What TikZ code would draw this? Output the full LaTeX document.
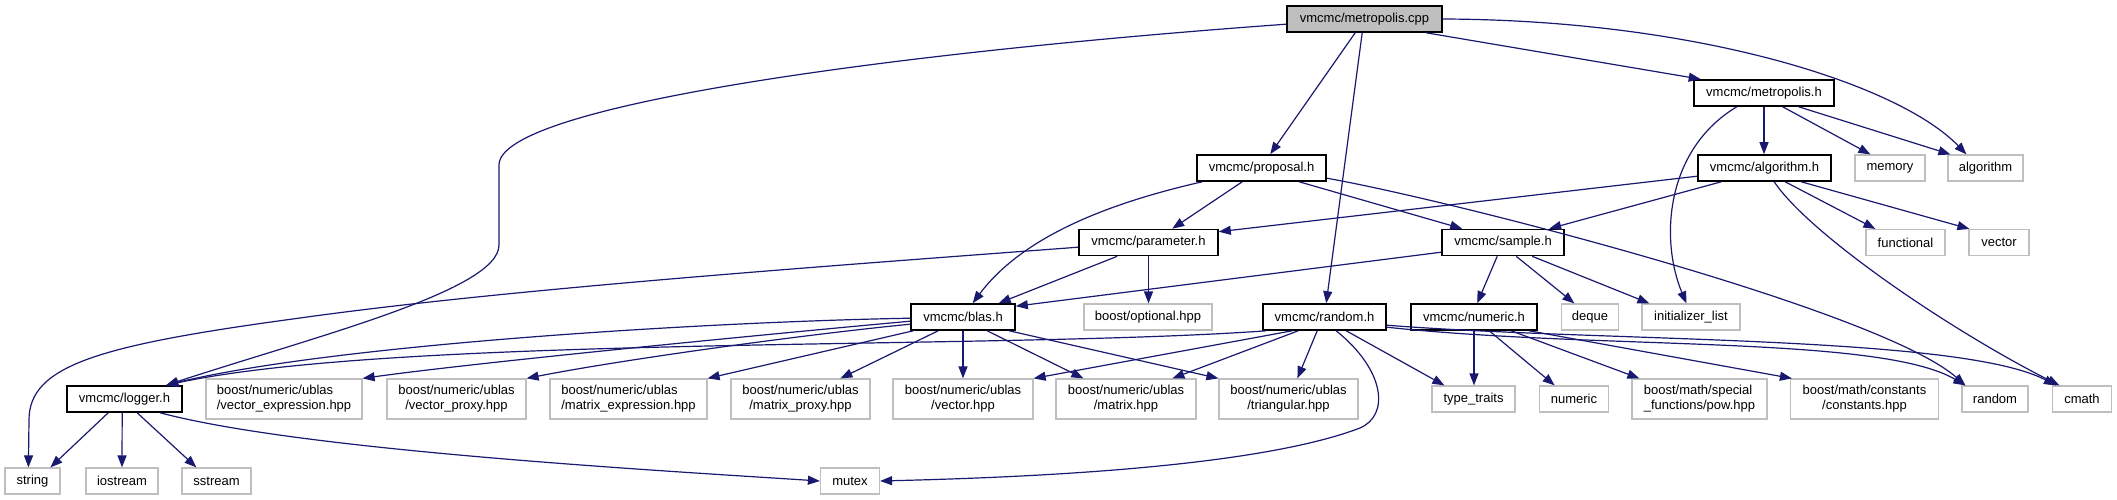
\documentclass[tikz,border=0pt]{standalone}
\usepackage{fontspec}
\setmainfont{Liberation Sans}
\usetikzlibrary{arrows.meta,calc}
\definecolor{edgec}{RGB}{25,25,112}
\definecolor{greyb}{RGB}{191,191,191}
\begin{document}
\begin{tikzpicture}[x=1pt,y=-1pt,
 base/.style={inner sep=0pt,minimum height=26pt,font=\fontsize{13}{15}\selectfont,text=black,line width=1.2pt},
 doc/.style={base,draw=black,line width=1.6pt,minimum width=#1},
 sys/.style={base,draw=greyb,minimum width=#1},
 sysb/.style={sys=#1,minimum height=40pt,align=center},
 sysl/.style={sys=#1,minimum height=40pt,align=left},
 cppn/.style={doc=#1,fill=greyb},
 arr/.style={draw=edgec,line width=1.2pt,-{Triangle[length=12pt,width=9pt]}}]
\fill[white] (0,0) rectangle (2117,500);
\useasboundingbox (0,0) rectangle (2117,500);

% nodes
\node[cppn=155pt] (cpp) at (1364.5,19) {vmcmc/metropolis.cpp};
\node[doc=140pt] (metroh) at (1764,93) {vmcmc/metropolis.h};
\node[doc=133pt] (algh) at (1764.5,168) {vmcmc/algorithm.h};
\node[sys=70pt] (memory) at (1890,168) {memory};
\node[sys=75pt] (algorithm) at (1985.5,168) {algorithm};
\node[doc=129pt] (proposal) at (1261.5,168) {vmcmc/proposal.h};
\node[doc=139pt] (parameter) at (1148.5,242.5) {vmcmc/parameter.h};
\node[doc=122pt] (sample) at (1503,242.5) {vmcmc/sample.h};
\node[sys=79pt] (functional) at (1905.5,242.5) {functional};
\node[sys=60pt] (vector) at (1999,242.5) {vector};
\node[doc=104pt] (blas) at (963,317) {vmcmc/blas.h};
\node[sys=128pt] (optional) at (1148,317) {boost/optional.hpp};
\node[doc=123pt] (randomh) at (1324.5,317) {vmcmc/random.h};
\node[doc=126pt] (numerich) at (1474,317) {vmcmc/numeric.h};
\node[sys=57pt] (deque) at (1590,317) {deque};
\node[sys=98pt] (init) at (1691,317) {initializer\_list};
\node[doc=115pt] (logger) at (124.5,399) {vmcmc/logger.h};
\node[sysl=156pt] (vexpr) at (284,399) {boost/numeric/ublas\\/vector\_expression.hpp};
\node[sysb=139pt] (vproxy) at (456.5,399) {boost/numeric/ublas\\/vector\_proxy.hpp};
\node[sysl=157pt] (mexpr) at (628.5,399) {boost/numeric/ublas\\/matrix\_expression.hpp};
\node[sysb=139pt] (mproxy) at (800.5,399) {boost/numeric/ublas\\/matrix\_proxy.hpp};
\node[sysb=140pt] (vectorhpp) at (963,399) {boost/numeric/ublas\\/vector.hpp};
\node[sysb=140pt] (matrixhpp) at (1126,399) {boost/numeric/ublas\\/matrix.hpp};
\node[sysb=139pt] (triang) at (1288.5,399) {boost/numeric/ublas\\/triangular.hpp};
\node[sys=83pt] (typetraits) at (1473.5,399) {type\_traits};
\node[sys=68.5pt] (numeric) at (1574,399) {numeric};
\node[sysl=135pt] (pow) at (1699.5,399) {boost/math/special\\\_functions/pow.hpp};
\node[sysb=148pt] (constants) at (1864.5,399) {boost/math/constants\\/constants.hpp};
\node[sys=66pt] (random) at (1995,399) {random};
\node[sys=59pt] (cmath) at (2082,399) {cmath};
\node[sys=55pt] (string) at (32.5,481) {string};
\node[sys=72pt] (iostream) at (122,481) {iostream};
\node[sys=69pt] (sstream) at (216.5,481) {sstream};
\node[sys=59pt] (mutex) at (850,481) {mutex};

% metropolis.cpp
\draw[arr] ($(cpp.north west)+(0,19)$) .. controls (900,52) and (499,105) .. (499,165) -- (499,245) .. controls (499,290) and (320,335) .. ($(logger.north west)+(100,0)$);
\draw[arr] ($(cpp.south west)+(69,0)$) -- ($(proposal.north west)+(74,0)$);
\draw[arr] ($(cpp.south west)+(76,0)$) -- ($(randomh.north west)+(64,0)$);
\draw[arr] ($(cpp.south west)+(140,0)$) -- ($(metroh.north west)+(7.5,0)$);
\draw[arr] (cpp.east) .. controls (1700,20) and (1900,85) .. ($(algorithm.north west)+(19,0)$);

% metropolis.h
\draw[arr] ($(metroh.south west)+(43.5,0)$) .. controls (1665,150) and (1660,240) .. ($(init.north west)+(45,0)$);
\draw[arr] (metroh.south) -- (metroh.south |- algh.north);
\draw[arr] ($(metroh.south west)+(89.5,0)$) -- ($(memory.north west)+(16,0)$);
\draw[arr] ($(metroh.south west)+(105.5,0)$) -- ($(algorithm.north west)+(3,0)$);

% proposal.h
\draw[arr] ($(proposal.south west)+(6,0)$) .. controls (1100,205) and (1020,240) .. ($(blas.north west)+(62.5,0)$);
\draw[arr] ($(proposal.south west)+(46,0)$) -- ($(parameter.north west)+(94,0)$);
\draw[arr] ($(proposal.south west)+(103,0)$) -- ($(sample.north west)+(21,0)$);
\draw[arr] ($(proposal.north east)+(0,24)$) .. controls (1450,200) and (1880,310) .. ($(random.north west)+(4,0)$);

% algorithm.h
\draw[arr] ($(algh.north west)+(0,22)$) -- ($(parameter.north east)+(0,3)$);
\draw[arr] ($(algh.south west)+(24,0)$) -- ($(sample.north west)+(108,0)$);
\draw[arr] ($(algh.south west)+(77,0)$) .. controls (1810,235) and (1950,330) .. ($(cmath.north west)+(7.5,0)$);
\draw[arr] ($(algh.south west)+(88,0)$) -- ($(functional.north west)+(10,0)$);
\draw[arr] ($(algh.south west)+(104,0)$) -- ($(vector.north west)+(1,0)$);

% sample.h
\draw[arr] ($(sample.north west)+(0,23.5)$) -- ($(blas.north east)+(0,3)$);
\draw[arr] ($(sample.south west)+(56,0)$) -- ($(numerich.north west)+(67,0)$);
\draw[arr] ($(sample.south west)+(75,0)$) -- ($(deque.north west)+(13.5,0)$);
\draw[arr] ($(sample.south west)+(91,0)$) -- ($(init.north west)+(8,0)$);

% parameter.h
\draw[arr] ($(parameter.north west)+(0,18.5)$) .. controls (800,268) and (500,290) .. (300,318) .. controls (100,345) and (29,365) .. (29,420) -- ($(string.north west)+(24,0)$);
\draw[arr] ($(parameter.south west)+(39,0)$) -- ($(blas.north west)+(88.5,0)$);
\draw[arr] (parameter.south) -- (parameter.south |- optional.north);

% blas.h
\draw[arr] ($(blas.north west)+(0,15)$) .. controls (700,322) and (330,345) .. ($(logger.north west)+(100,0)$);
\draw[arr] ($(blas.north west)+(0,18)$) .. controls (780,333) and (480,362) .. (vexpr.north east);
\draw[arr] ($(blas.north west)+(0,21)$) .. controls (800,335) and (620,360) .. (vproxy.north east);
\draw[arr] ($(blas.south west)+(3,0)$) -- (mexpr.north east);
\draw[arr] ($(blas.south west)+(28,0)$) -- ($(mproxy.north west)+(110,0)$);
\draw[arr] (blas.south) -- (blas.south |- vectorhpp.north);
\draw[arr] ($(blas.south west)+(77,0)$) -- ($(matrixhpp.north west)+(28,0)$);
\draw[arr] ($(blas.south west)+(99,0)$) -- (triang.north west);

% random.h
\draw[arr] ($(randomh.south west)+(4,0)$) .. controls (1000,350) and (400,335) .. ($(logger.north west)+(100,0)$);
\draw[arr] ($(randomh.south west)+(30,0)$) -- (vectorhpp.north east);
\draw[arr] ($(randomh.south west)+(36,0)$) -- ($(matrixhpp.north west)+(117,0)$);
\draw[arr] ($(randomh.south west)+(55,0)$) -- ($(triang.north west)+(79,0)$);
\draw[arr] ($(randomh.south west)+(74,0)$) .. controls (1385,370) and (1390,415) .. (1360,428) .. controls (1250,470) and (1000,478) .. (mutex.east);
\draw[arr] ($(randomh.south west)+(84,0)$) -- ($(typetraits.north west)+(13,0)$);
\draw[arr] ($(randomh.north east)+(0,24)$) .. controls (1600,350) and (1880,335) .. ($(random.north west)+(4,0)$);
\draw[arr] ($(randomh.north east)+(0,22)$) .. controls (1600,342) and (1960,335) .. ($(cmath.north west)+(4,0)$);

% numeric.h
\draw[arr] (numerich.south) -- (numerich.south |- typetraits.north);
\draw[arr] ($(numerich.south west)+(79,0)$) -- ($(numeric.north west)+(15.5,0)$);
\draw[arr] ($(numerich.south west)+(101,0)$) -- ($(pow.north west)+(8,0)$);
\draw[arr] ($(numerich.south west)+(119,0)$) -- ($(constants.north west)+(2,0)$);

% logger.h
\draw[arr] ($(logger.south west)+(42,0)$) -- ($(string.north west)+(46,0)$);
\draw[arr] ($(logger.south west)+(56,0)$) -- (iostream.north);
\draw[arr] ($(logger.south west)+(71,0)$) -- ($(sstream.north west)+(15,0)$);
\draw[arr] ($(logger.south west)+(94,0)$) .. controls (300,450) and (650,470) .. (mutex.west);
\end{tikzpicture}
\end{document}
